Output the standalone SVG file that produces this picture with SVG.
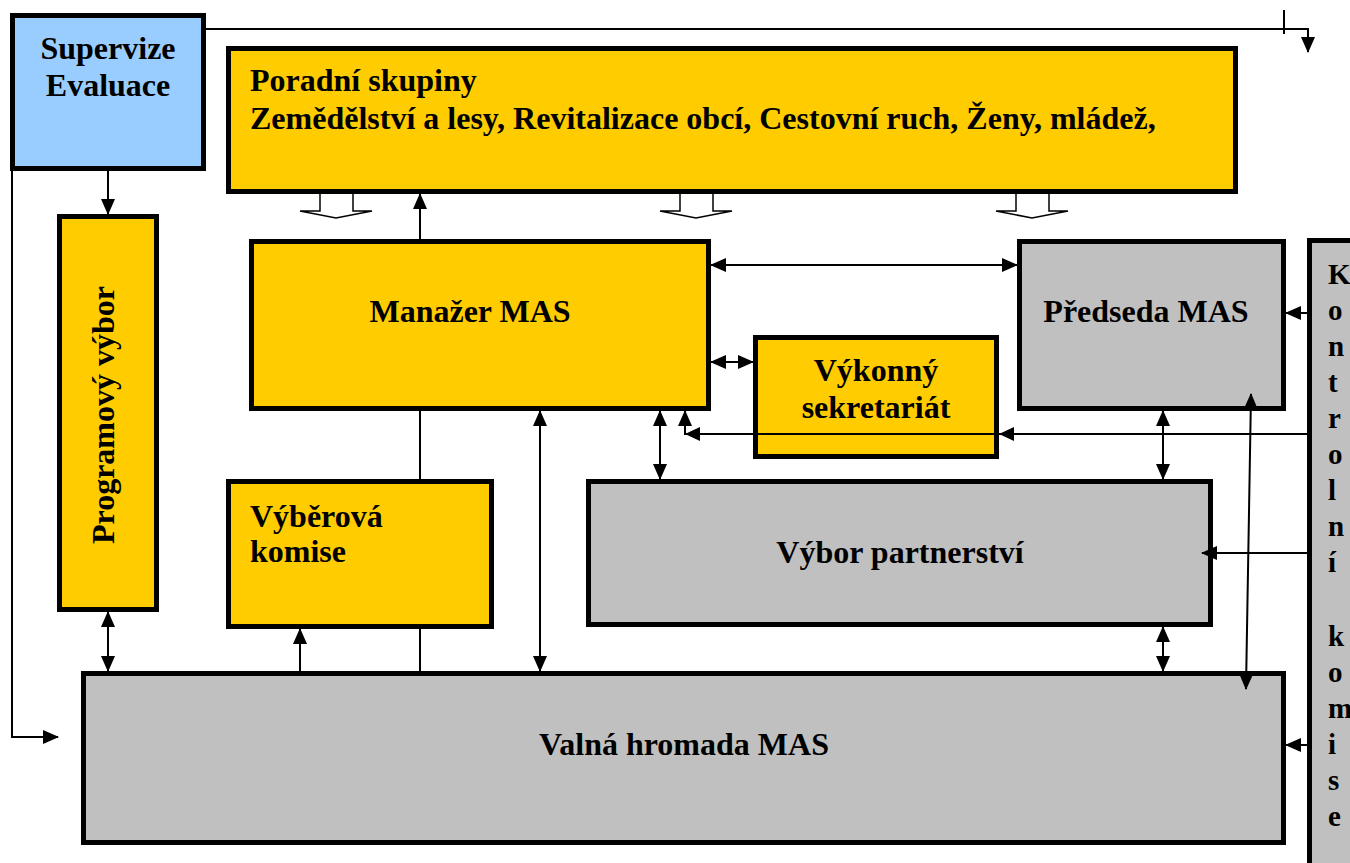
<svg xmlns="http://www.w3.org/2000/svg" width="1350" height="863" viewBox="0 0 1350 863">
<style>
.box{stroke:#000;stroke-width:5}
.y{fill:#FFCC00}.g{fill:#C0C0C0}.b{fill:#99CCFF}
.t{font-family:"Liberation Serif","Times New Roman",serif;font-weight:bold;font-size:32px;fill:#000}
.k{font-size:29px}
.c{text-anchor:middle}
.ln{stroke:#000;stroke-width:2;fill:none}
.hol{fill:#fff;stroke:#000;stroke-width:1.5}
</style>
<defs>
<marker id="a" markerUnits="userSpaceOnUse" markerWidth="16" markerHeight="16" viewBox="0 0 16 16" refX="15" refY="8" orient="auto-start-reverse">
<path d="M0,1 L16,8 L0,15 Z" fill="#000"/>
</marker>
</defs>
<rect width="1350" height="863" fill="#fff"/>
<g id="supervize"><rect class="box b" x="12.5" y="15.5" width="191" height="153"/>
<text class="t c" x="108" y="59">Supervize</text><text class="t c" x="108" y="96">Evaluace</text></g>
<g id="poradni"><rect class="box y" x="228.5" y="48.5" width="1007" height="143"/>
<text class="t" x="250" y="91">Poradní skupiny</text>
<text class="t" x="250" y="129">Zemědělství a lesy, Revitalizace obcí, Cestovní ruch, Ženy, mládež,</text></g>
<g id="programovy"><rect class="box y" x="59.5" y="216.5" width="97" height="393"/>
<text class="t c" transform="translate(114,415) rotate(-90)">Programový výbor</text></g>
<g id="manazer"><rect class="box y" x="251.5" y="241.5" width="457" height="167"/>
<text class="t c" x="470" y="322">Manažer MAS</text></g>
<g id="predseda"><rect class="box g" x="1019.5" y="241.5" width="264" height="167"/>
<text class="t c" x="1146" y="322">Předseda MAS</text></g>
<g id="vykonny"><rect class="box y" x="755.5" y="337.5" width="241" height="119"/>
<text class="t c" x="876" y="381">Výkonný</text><text class="t c" x="876" y="418">sekretariát</text></g>
<g id="vyberova"><rect class="box y" x="228.5" y="481.5" width="263" height="145"/>
<text class="t" x="250" y="527">Výběrová</text><text class="t" x="250" y="562">komise</text></g>
<g id="vybor"><rect class="box g" x="588.5" y="481.5" width="622" height="143"/>
<text class="t c" x="900" y="563">Výbor partnerství</text></g>
<g id="valna"><rect class="box g" x="83.5" y="673.5" width="1200" height="169"/>
<text class="t c" x="684" y="755">Valná hromada MAS</text></g>
<g id="kontrolni"><rect class="box g" x="1309.5" y="240.5" width="60" height="640"/>
<text class="t k" x="1328" y="284">K</text>
<text class="t k" x="1328" y="320">o</text>
<text class="t k" x="1328" y="356">n</text>
<text class="t k" x="1328" y="392">t</text>
<text class="t k" x="1328" y="428">r</text>
<text class="t k" x="1328" y="464">o</text>
<text class="t k" x="1328" y="500">l</text>
<text class="t k" x="1328" y="536">n</text>
<text class="t k" x="1328" y="572">í</text>
<text class="t k" x="1328" y="646">k</text>
<text class="t k" x="1328" y="682">o</text>
<text class="t k" x="1328" y="718">m</text>
<text class="t k" x="1328" y="754">i</text>
<text class="t k" x="1328" y="790">s</text>
<text class="t k" x="1328" y="826">e</text>
</g>
<g id="connectors">
<polyline class="ln" points="206,29 1308,29 1308,52" marker-end="url(#a)"/>
<line class="ln" x1="1284" y1="10" x2="1284" y2="34"/>
<polyline class="ln" points="12,171 12,737 58,737" marker-end="url(#a)"/>
<line class="ln" x1="108" y1="171" x2="108" y2="214" marker-end="url(#a)"/>
<line class="ln" x1="108" y1="612" x2="108" y2="671" marker-start="url(#a)" marker-end="url(#a)"/>
<line class="ln" x1="420" y1="239" x2="420" y2="194" marker-end="url(#a)"/>
<line class="ln" x1="300" y1="671" x2="300" y2="629" marker-end="url(#a)"/>
<line class="ln" x1="420" y1="411" x2="420" y2="479"/>
<line class="ln" x1="420" y1="629" x2="420" y2="671"/>
<line class="ln" x1="540" y1="411" x2="540" y2="671" marker-start="url(#a)" marker-end="url(#a)"/>
<line class="ln" x1="660" y1="411" x2="660" y2="479" marker-start="url(#a)" marker-end="url(#a)"/>
<polyline class="ln" points="1307,434 685,434 685,411" marker-end="url(#a)"/>
<path d="M685,434 l15,-7 v14 z" fill="#000"/>
<path d="M999,434 l15,-7 v14 z" fill="#000"/>
<line class="ln" x1="711" y1="362" x2="753" y2="362" marker-start="url(#a)" marker-end="url(#a)"/>
<line class="ln" x1="711" y1="265" x2="1017" y2="265" marker-start="url(#a)" marker-end="url(#a)"/>
<line class="ln" x1="1163" y1="411" x2="1163" y2="479" marker-start="url(#a)" marker-end="url(#a)"/>
<line class="ln" x1="1163" y1="627" x2="1163" y2="671" marker-start="url(#a)" marker-end="url(#a)"/>
<line class="ln" x1="1307" y1="313" x2="1286" y2="313" marker-end="url(#a)"/>
<line class="ln" x1="1307" y1="553" x2="1202" y2="553" marker-end="url(#a)"/>
<line class="ln" x1="1307" y1="745" x2="1286" y2="745" marker-end="url(#a)"/>
<line class="ln" x1="1251" y1="394" x2="1246" y2="689" marker-start="url(#a)" marker-end="url(#a)"/>
<path class="hol" d="M320,194 V211 H300 L336,218 L372,211 H353 V194"/>
<path class="hol" d="M680,194 V211 H660 L696,218 L732,211 H713 V194"/>
<path class="hol" d="M1016,194 V211 H996 L1032,218 L1068,211 H1049 V194"/>
</g>
</svg>
